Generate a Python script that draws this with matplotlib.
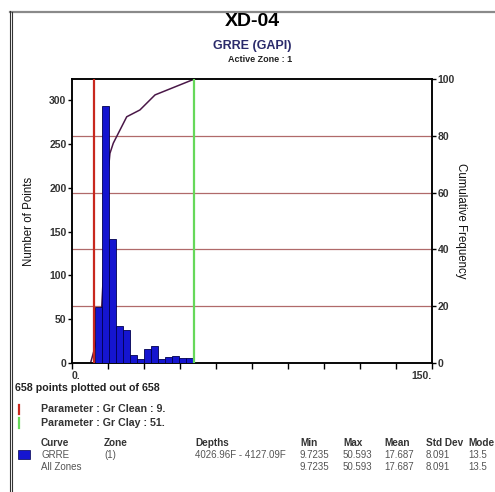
import numpy as np
import matplotlib
matplotlib.use("Agg")
import matplotlib.pyplot as plt
from matplotlib.lines import Line2D
from matplotlib.patches import Rectangle

plt.rcParams['font.family'] = ['Liberation Sans', 'DejaVu Sans']

W, H = 495, 492

# GRRE histogram: 14 bins between min and max of the curve
gr_min = 9.7235
gr_max = 50.593
counts = [64, 293, 141, 42, 38, 9, 4, 16, 19, 5, 7, 8, 6, 6]

# cumulative frequency curve (%)
cum_x = [7.9, 9.6, 12.1, 14.9, 15.1, 15.8, 17.2, 22.8, 28.3, 34.6, 49.9, 51.2]
cum_pct = [0.5, 5.7, 15.0, 61.6, 67.4, 73.8, 77.4, 86.7, 89.1, 94.4, 99.6, 100]

# cutoff parameters
gr_clean = 9.
gr_clay = 51.

# stats table
table_cols = ["Curve", "Zone", "Depths", "Min", "Max", "Mean", "Std Dev", "Mode"]
table_rows = [
    ["GRRE", "(1)", "4026.96F - 4127.09F", "9.7235", "50.593", "17.687", "8.091", "13.5"],
    ["All Zones", "", "", "9.7235", "50.593", "17.687", "8.091", "13.5"],
]
col_x = [41, 104, 195, 300, 343, 384, 426, 468]


def fx(px):
    return px / W


def fy(py):
    return 1 - py / H


fig = plt.figure(figsize=(W / 100, H / 100), dpi=100)
fig.patch.set_facecolor('white')

ax = fig.add_axes([fx(72), fy(363), fx(432) - fx(72), fy(79) - fy(363)])
ax2 = ax.twinx()

# grid lines belong to cumulative axis
for g in [20, 40, 60, 80]:
    ax2.axhline(g, color='#b06a6a', lw=0.9, zorder=1)

edges = np.linspace(gr_min, gr_max, len(counts) + 1)
ax.bar(edges[:-1], counts, width=np.diff(edges), align='edge',
       color='#1515d0', edgecolor='#000050', linewidth=0.6, zorder=3)

ax.axvline(gr_clean, color='#c8281e', lw=1.6, zorder=4)
ax.axvline(gr_clay, color='#66d85a', lw=1.6, zorder=4)

ax2.plot(cum_x, cum_pct, color='#4a1848', lw=1.1, zorder=5)

ax.set_xlim(0, 150)
ax.set_ylim(0, 324)
ax2.set_ylim(0, 100)

ax.set_zorder(ax2.get_zorder() + 1)
ax.patch.set_visible(False)

tick_font = dict(fontsize=7.5, fontweight='bold', color='#333333')
ax.set_xticks(np.arange(0, 151, 15))
ax.set_xticklabels([])
ax.tick_params(axis='x', direction='out', length=4, width=1.0)
ax.set_yticks(np.arange(0, 301, 50))
ax.set_yticklabels([str(v) for v in range(0, 301, 50)], **tick_font)
ax.tick_params(axis='y', direction='out', length=3, width=1.0, pad=1)
ax2.set_yticks(np.arange(0, 101, 20))
ax2.set_yticklabels([str(v) for v in range(0, 101, 20)], **tick_font)
ax2.tick_params(axis='y', direction='out', length=3, width=1.0, pad=1)

for a in (ax, ax2):
    for s in a.spines.values():
        s.set_linewidth(1.1)
        s.set_color('black')

ax.text(0, -0.045, "0.", transform=ax.transAxes, ha='left', va='center', **tick_font)
ax.text(1, -0.045, "150.", transform=ax.transAxes, ha='right', va='center', **tick_font)

ax.set_ylabel("Number of Points", fontsize=8.3, color='#111111', labelpad=10,
              fontfamily=['Liberation Sans Narrow', 'Liberation Sans'])
ax2.set_ylabel("Cumulative Frequency", fontsize=8.3, color='#111111', rotation=-90,
               labelpad=9, fontfamily=['Liberation Sans Narrow', 'Liberation Sans'])

# titles
fig.text(fx(252), fy(21), "XD-04", ha='center', va='center', fontsize=14, fontweight='bold')
fig.text(fx(252), fy(46), "GRRE (GAPI)", ha='center', va='center', fontsize=9,
         fontweight='bold', color='#2b2b6b')
fig.text(fx(260), fy(59), "Active Zone : 1", ha='center', va='center', fontsize=6.5,
         fontweight='bold', color='#222222')

# frame
fig.add_artist(Line2D([fx(10), fx(495)], [fy(11.5), fy(11.5)], color='#8a8a8a', lw=1.6))
fig.add_artist(Line2D([fx(9.5), fx(9.5)], [fy(11), fy(492)], color='#333333', lw=0.8))
fig.add_artist(Line2D([fx(12), fx(12)], [fy(12), fy(492)], color='#333333', lw=0.8))

fig.text(fx(15), fy(388), "658 points plotted out of 658", ha='left', va='center',
         fontsize=7.7, fontweight='bold', color='#222222')

# parameter legend
fig.add_artist(Line2D([fx(19), fx(19)], [fy(405), fy(414)], color='#c8281e', lw=1.6))
fig.add_artist(Line2D([fx(19), fx(19)], [fy(418), fy(428)], color='#66d85a', lw=1.6))
fig.text(fx(41), fy(409), "Parameter : Gr Clean : %g." % gr_clean, ha='left', va='center',
         fontsize=7.7, fontweight='bold', color='#333333')
fig.text(fx(41), fy(423.5), "Parameter : Gr Clay : %g." % gr_clay, ha='left', va='center',
         fontsize=7.7, fontweight='bold', color='#333333')

# stats table
for x, c in zip(col_x, table_cols):
    fig.text(fx(x), fy(443), c, ha='left', va='center', fontsize=7.2,
             fontweight='bold', color='#333333')
for r, row in enumerate(table_rows):
    for x, v in zip(col_x, row):
        if v:
            fig.text(fx(x), fy(455 + 12 * r), v, ha='left', va='center',
                     fontsize=7, color='#555555')
fig.add_artist(Rectangle((fx(18), fy(459)), fx(12), fy(450) - fy(459),
                         facecolor='#1515d0', edgecolor='#000050', lw=0.5))

fig.savefig("out.png", dpi=100)
